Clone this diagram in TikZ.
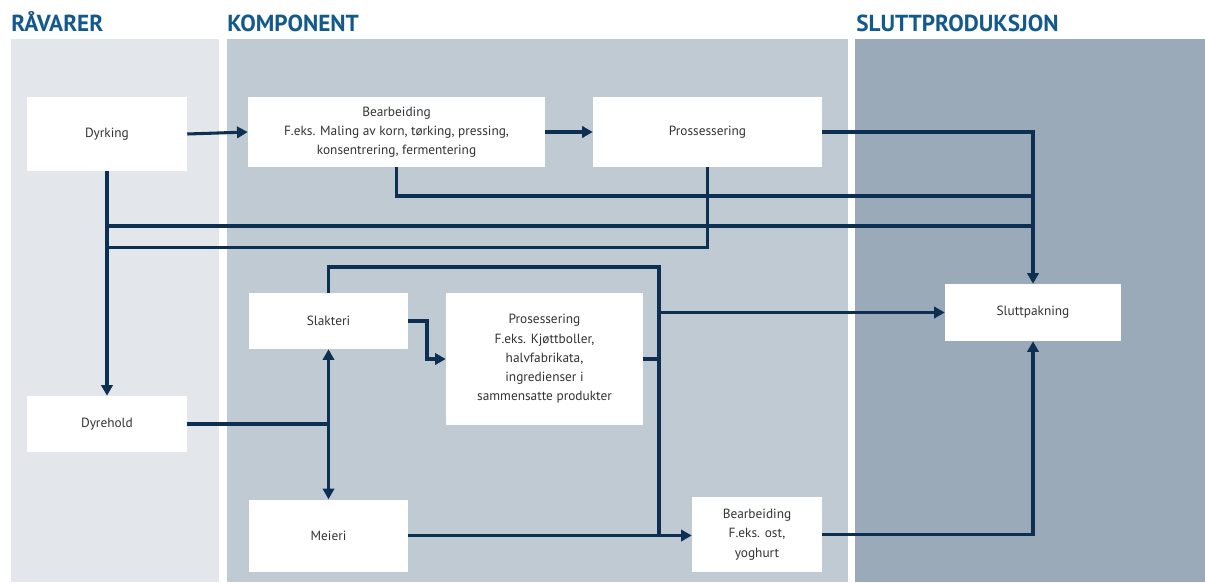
\documentclass[tikz,border=0pt]{standalone}
\usepackage{fontspec}
\setmainfont{PT Sans}
\usetikzlibrary{arrows.meta}
\definecolor{colA}{HTML}{E3E7EC}
\definecolor{colB}{HTML}{C0CAD3}
\definecolor{colC}{HTML}{9BAAB8}
\definecolor{headblue}{HTML}{125A8C}
\definecolor{linenavy}{HTML}{0C2F52}
\definecolor{textgray}{HTML}{333333}
\tikzset{
  header/.style={anchor=base west, inner sep=0pt, text=headblue, font=\fontsize{17.4}{20}\selectfont\bfseries},
  box/.style={fill=white, draw=none, inner sep=0pt, align=center, text=textgray, font=\fontsize{10}{14.4}\selectfont},
  ln/.style={draw=linenavy, line width=2.3pt, line join=miter},
  arr/.style={ln, -{Triangle[length=8pt,width=8.5pt]}},
}
\begin{document}
\begin{tikzpicture}[x=0.75pt, y=-0.75pt]
\useasboundingbox (0,0) rectangle (1205,582);
\fill[white] (0,0) rectangle (1205,582);
% panels
\fill[colA] (11,39) rectangle (219,582);
\fill[colB] (227,39) rectangle (848,582);
\fill[colC] (855,39) rectangle (1205,582);
% headers
\node[header] (h1) at (11,31) {RÅVARER};
\node[header] (h2) at (227,31) {KOMPONENT};
\node[header] (h3) at (856,31) {SLUTTPRODUKSJON};
% boxes
\node[box, minimum width=120pt, minimum height=55.5pt] (dyr) at (107,134) {Dyrking};
\node[box, minimum width=222.75pt, minimum height=52.5pt] (bea) at (396.5,132) {Bearbeiding\\F.eks. Maling av korn, tørking, pressing,\\konsentrering, fermentering};
\node[box, minimum width=171.75pt, minimum height=52.5pt] (pro) at (707.5,132) {Prossessering};
\node[box, minimum width=119.25pt, minimum height=42pt] (sla) at (328.5,321) {Slakteri};
\node[box, minimum width=147.75pt, minimum height=99pt] (pr2) at (544.5,359) {Prosessering\\F.eks. Kjøttboller,\\halvfabrikata,\\ingredienser i\\sammensatte produkter};
\node[box, minimum width=120pt, minimum height=42pt] (dyh) at (107,424) {Dyrehold};
\node[box, minimum width=119.25pt, minimum height=54pt] (mei) at (328.5,535.5) {Meieri};
\node[box, minimum width=97.5pt, minimum height=56.25pt] (be2) at (757,534.5) {Bearbeiding\\F.eks. ost,\\yoghurt};
\node[box, minimum width=132pt, minimum height=42.75pt] (slu) at (1033,312.5) {Sluttpakning};
% helper coordinates
\coordinate (b1) at (1033,196);
\coordinate (d1) at (107,226);
\coordinate (d2) at (1033,226);
\coordinate (d3) at (107,247.5);
\coordinate (m1) at (659,267);
\coordinate (m2) at (659,535);
\coordinate (m3) at (659,312.5);
\coordinate (s1) at (427,321);
\coordinate (j1) at (328.5,424);
% connectors
\draw[arr] (dyr.east) -- (bea.west);
\draw[arr] (bea.east) -- (pro.west);
\draw[arr] (pro.east) -| (slu.north);
\draw[ln] (bea.south) |- (b1);
\draw[arr] (dyr.south) -- (dyh.north);
\draw[ln] (d1) -- (d2);
\draw[ln] (pro.south) |- (d3);
\draw[ln] (sla.north) |- (m1) -- (m2);
\draw[arr] (m3) -- (slu.west);
\draw[ln] (pr2.east) -- (pr2.east -| m1);
\draw[arr] (sla.east) -- (s1) |- (pr2.west);
\draw[ln] (dyh.east) -- (j1);
\draw[arr] (j1) -- (sla.south);
\draw[arr] (j1) -- (mei.north);
\draw[arr] (mei.east) -- (mei.east -| be2.west);
\draw[arr] (be2.east) -| (slu.south);
\end{tikzpicture}
\end{document}
